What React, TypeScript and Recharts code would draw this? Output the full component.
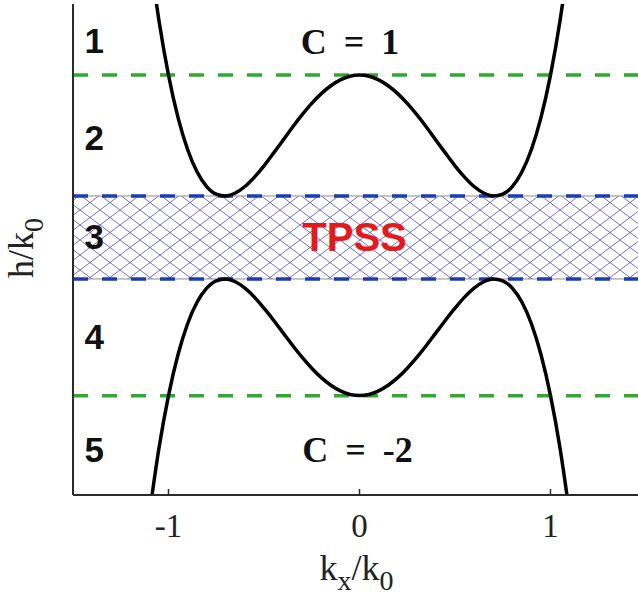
import { LineChart, Line, XAxis, YAxis, ReferenceLine, ReferenceArea, ReferenceDot } from 'recharts';

// k_x / k_0 sample positions
const kx = [
  -1.1, -1.05, -1.0, -0.95, -0.9, -0.85, -0.8, -0.75, -0.7, -0.65, -0.6, -0.55, -0.5,
  -0.45, -0.4, -0.35, -0.3, -0.25, -0.2, -0.15, -0.1, -0.05, 0,
  0.05, 0.1, 0.15, 0.2, 0.25, 0.3, 0.35, 0.4, 0.45, 0.5, 0.55, 0.6, 0.65, 0.7,
  0.75, 0.8, 0.85, 0.9, 0.95, 1.0, 1.05, 1.1,
];

// upper band edge (h/k0)
const upperBand = [
  2.422, 1.866, 1.421, 1.074, 0.815, 0.631, 0.513, 0.451, 0.436, 0.46, 0.513, 0.59, 0.682,
  0.785, 0.891, 0.998, 1.098, 1.19, 1.27, 1.334, 1.382, 1.411, 1.421,
  1.411, 1.382, 1.334, 1.27, 1.19, 1.098, 0.998, 0.891, 0.785, 0.682, 0.59, 0.513, 0.46, 0.436,
  0.451, 0.513, 0.631, 0.815, 1.074, 1.421, 1.866, 2.422,
];

// lower band edge
const lowerBand = [
  -2.156, -1.619, -1.19, -0.856, -0.605, -0.428, -0.315, -0.255, -0.24, -0.263, -0.315, -0.388, -0.478,
  -0.576, -0.679, -0.782, -0.879, -0.967, -1.044, -1.106, -1.152, -1.181, -1.19,
  -1.181, -1.152, -1.106, -1.044, -0.967, -0.879, -0.782, -0.679, -0.576, -0.478, -0.388, -0.315, -0.263, -0.24,
  -0.255, -0.315, -0.428, -0.605, -0.856, -1.19, -1.619, -2.156,
];

const xTicks = [-1, 0, 1];
const chernLevels = [1.421, -1.191];
const gapLevels = [0.436, -0.24];

const regionNames = ['1', '2', '3', '4', '5'];
const regionLevels = [1.7, 0.91, 0.1, -0.71, -1.63];

const chernLabels = ['C = 1', 'C = -2'];
const chernLabelPos = [
  { k: -0.05, h: 1.69 },
  { k: -0.01, h: -1.63 },
];

const data = kx.map((k, i) => ({ k, up: upperBand[i], down: lowerBand[i] }));

const serif = '"Liberation Serif", "Times New Roman", serif';
const sans = '"Liberation Sans", Arial, sans-serif';
const axisColor = '#2b2b2b';

const BottomTick = (props: any) => {
  const { x, y, payload } = props;
  return (
    <g>
      <line x1={x} y1={y} x2={x} y2={y - 6} stroke={axisColor} strokeWidth={1.5} />
      <text x={x} y={y + 42} textAnchor="middle" fontFamily={serif} fontSize={33} fill="#222">
        {payload.value}
      </text>
    </g>
  );
};

const TopTick = (props: any) => {
  const { x, y } = props;
  return <line x1={x} y1={y} x2={x} y2={y + 6} stroke={axisColor} strokeWidth={1.5} />;
};

const XTitle = (props: any) => {
  const vb = props.viewBox;
  return (
    <text x={vb.x + vb.width / 2 - 3} y={vb.y + 85} textAnchor="middle" fontFamily={serif} fontSize={36} fill="#222">
      k<tspan fontSize={28} dy={10}>x</tspan>
      <tspan dy={-10}>/k</tspan>
      <tspan fontSize={28} dy={10}>0</tspan>
    </text>
  );
};

const YTitle = () => (
  <text x={33} y={248} transform="rotate(-90, 33, 248)" textAnchor="middle" fontFamily={serif} fontSize={36} fill="#222">
    h/k<tspan fontSize={28} dy={10}>0</tspan>
  </text>
);

export default function App() {
  return (
    <div style={{ position: 'absolute', left: 0, top: 0, width: 638, height: 603, overflow: 'hidden', background: '#fff' }}>
      <svg width={0} height={0} style={{ position: 'absolute' }}>
        <defs>
          <pattern id="tpssHatch" patternUnits="userSpaceOnUse" width={20} height={15}>
            <rect width={20} height={15} fill="#fff" />
            <line x1={0} y1={0} x2={20} y2={15} stroke="#4a4ab8" strokeWidth={0.8} />
            <line x1={0} y1={15} x2={20} y2={0} stroke="#4a4ab8" strokeWidth={0.8} />
          </pattern>
        </defs>
      </svg>
      <LineChart width={700} height={603} data={data} margin={{ top: 4, right: 54, left: 0, bottom: 48 }}>
        <XAxis
          dataKey="k"
          type="number"
          domain={[-1.5, 1.5]}
          ticks={xTicks}
          allowDataOverflow
          tickSize={0}
          tickMargin={0}
          tick={<BottomTick />}
          axisLine={{ stroke: axisColor, strokeWidth: 2 }}
          height={60}
          label={<XTitle />}
        />
        <XAxis
          xAxisId="top"
          orientation="top"
          dataKey="k"
          type="number"
          domain={[-1.5, 1.5]}
          ticks={xTicks}
          allowDataOverflow
          tickSize={0}
          tickMargin={0}
          tick={<TopTick />}
          axisLine={{ stroke: axisColor, strokeWidth: 2 }}
          height={0}
        />
        <YAxis
          type="number"
          domain={[-2, 2]}
          allowDataOverflow
          tick={false}
          tickLine={false}
          axisLine={{ stroke: axisColor, strokeWidth: 2 }}
          width={73}
          label={<YTitle />}
        />
        <ReferenceArea y1={gapLevels[1]} y2={gapLevels[0]} fill="url(#tpssHatch)" fillOpacity={1} stroke="#8c8c8c" strokeWidth={1} />
        {chernLevels.map((h) => (
          <ReferenceLine key={`c${h}`} y={h} stroke="#2eaa2e" strokeWidth={3.5} strokeDasharray="15 14" />
        ))}
        {gapLevels.map((h) => (
          <ReferenceLine key={`g${h}`} y={h} stroke="#1a3cb4" strokeWidth={3.5} strokeDasharray="15 14" />
        ))}
        <Line type="monotone" dataKey="up" stroke="#000" strokeWidth={3.5} dot={false} isAnimationActive={false} />
        <Line type="monotone" dataKey="down" stroke="#000" strokeWidth={3.5} dot={false} isAnimationActive={false} />
        {regionNames.map((name, i) => (
          <ReferenceDot
            key={name}
            x={-1.44}
            y={regionLevels[i]}
            r={1}
            shape={(p: any) => (
              <text x={p.cx} y={p.cy} dy={12} fontFamily={sans} fontWeight="bold" fontSize={35} fill="#111">
                {name}
              </text>
            )}
          />
        ))}
        {chernLabels.map((t, i) => (
          <ReferenceDot
            key={t}
            x={chernLabelPos[i].k}
            y={chernLabelPos[i].h}
            r={1}
            shape={(p: any) => (
              <text x={p.cx} y={p.cy} dy={12} textAnchor="middle" fontFamily={serif} fontWeight="bold" fontSize={36} wordSpacing={8} fill="#111" style={{ whiteSpace: 'pre' }}>
                {t}
              </text>
            )}
          />
        ))}
        <ReferenceDot
          x={-0.026}
          y={0.1}
          r={1}
          shape={(p: any) => (
            <text x={p.cx} y={p.cy} dy={14} textAnchor="middle" fontFamily={sans} fontWeight="bold" fontSize={40} fill="#e3191c">
              TPSS
            </text>
          )}
        />
      </LineChart>
    </div>
  );
}
